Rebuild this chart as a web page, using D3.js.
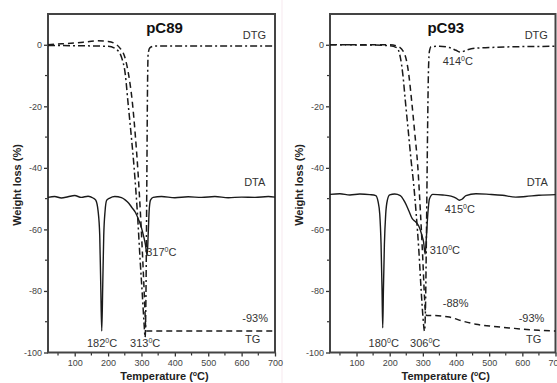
<!DOCTYPE html>
<html lang="en">
<head>
<meta charset="UTF-8">
<title>TG / DTG / DTA of pC89 and pC93</title>
<script src="https://d3js.org/d3.v7.min.js"></script>
<style>
  body { margin: 0; background: #fff; }
  svg { display: block; font-family: "Liberation Sans", Arial, sans-serif; }
  .tick text { fill: #444; font-size: 9px; }
  .ann { fill: #333; font-size: 11px; }
</style>
</head>
<body>
<svg width="557" height="383"></svg>
<script>
// --- data (temperature °C, weight loss %) ---
var xTicks = [100, 200, 300, 400, 500, 600, 700];
var xMinor = [50, 150, 250, 350, 450, 550, 650];
var yTicks = [0, -20, -40, -60, -80, -100];
var yMinor = [-10, -30, -50, -70, -90];

var tgC89 = [[20,0],[60,0.3],[100,0.6],[140,1],[170,1.3],[200,1.1],[220,0.4],[235,-1],[250,-4],
  [262,-10],[272,-18],[282,-30],[290,-42],[297,-55],[303,-68],[308,-80],[311,-88],[313,-93],
  [330,-93],[500,-93],[700,-93]];
var dtgC89 = [[20,-0.2],[100,-0.3],[200,-0.5],[225,-1.5],[240,-4],[252,-10],[259,-18],[268,-28],
  [278,-40],[288,-55],[296,-70],[303,-82],[308,-91],[311,-95],[314,-75],[316,-45],[318,-15],
  [320,-3],[325,-1],[340,-0.4],[500,-0.4],[700,-0.4]];
var dtaC89 = [[20,-49.6],[40,-49.3],[60,-49.8],[80,-49.4],[100,-49.0],[120,-49.6],[140,-49.2],
  [155,-49.8],[163,-50.5],[170,-54],[175,-62],[178,-78],[181,-93],[184,-78],[187,-62],[191,-54],
  [196,-50.5],[205,-49.8],[220,-49.3],[240,-49.7],[252,-50.5],[262,-51.5],[272,-53],[282,-54.5],
  [292,-57],[300,-59.5],[307,-62.5],[312,-65],[317,-68.5],[320,-62],[323,-54],[327,-50.5],
  [335,-49.6],[360,-49.3],[400,-49.7],[440,-49.4],[480,-49.6],[520,-49.3],[560,-49.7],
  [600,-49.5],[640,-49.6],[680,-49.3],[700,-49.5]];

var tgC93 = [[20,0],[150,0],[200,0],[225,-0.5],[245,-3],[258,-10],[266,-18],[275,-28],[285,-40],
  [293,-55],[300,-70],[305,-82],[308,-87],[312,-88],[330,-88],[380,-88.5],[420,-89.8],
  [460,-90.8],[510,-91.5],[560,-92],[600,-92.4],[650,-92.8],[700,-93]];
var dtgC93 = [[20,0],[150,-0.1],[200,-0.3],[222,-1],[232,-4],[240,-10],[247,-18],[256,-28],
  [265,-38],[272,-45],[280,-55],[288,-67],[295,-80],[300,-88],[305,-93],[308,-85],[311,-60],
  [314,-30],[317,-8],[320,-2],[325,-0.6],[350,-0.5],[380,-0.9],[400,-1.8],[414,-2.4],[430,-1.8],
  [460,-1.1],[500,-0.9],[550,-0.7],[600,-0.6],[700,-0.5]];
var dtaC93 = [[20,-48.6],[50,-48.4],[80,-48.8],[110,-48.5],[140,-48.7],[158,-49],[165,-51],
  [170,-55],[174,-65],[177,-80],[179,-92],[181,-80],[184,-65],[188,-55],[193,-50.5],[200,-48.8],
  [215,-48.5],[232,-49],[245,-51],[258,-54],[268,-56.5],[278,-57.5],[288,-59],[296,-61.5],
  [302,-64],[307,-68],[311,-62],[315,-55],[320,-50],[330,-48.6],[360,-48.8],[385,-49.2],
  [400,-49.8],[410,-50.5],[418,-50.2],[430,-49],[460,-48.4],[500,-48.6],[540,-48.9],
  [580,-49.5],[610,-49.3],[650,-48.9],[700,-48.7]];

// annotations: [text, temperature, value, anchor]; "|" marks the degree sign
var annC89 = [["DTG",673,2,"end"],["DTA",671,-46,"end"],["TG",610,-97,"start"],["-93%",679,-90,"end"],
  ["182|C",182,-98.2,"middle"],["313|C",311,-98.2,"middle"],["317|C",314,-68.6,"start"]];
var annC93 = [["DTG",677,2,"end"],["DTA",677,-46,"end"],["TG",611,-97,"start"],["-93%",589,-90,"start"],
  ["-88%",360,-85.2,"start"],["414|C",360,-6.5,"start"],["415|C",366,-54.6,"start"],
  ["310|C",321,-68,"start"],["180|C",182,-98.2,"middle"],["306|C",307,-98.2,"middle"]];

var svg = d3.select("svg");

// faint separator between the two pictures
svg.append("line").attr("x1", 282).attr("x2", 282).attr("y1", 0).attr("y2", 383)
   .attr("stroke", "#f7e9ef").attr("stroke-width", 1);

function drawPanel(cfg) {
  var x = d3.scaleLinear().domain([20, 700]).range([cfg.x0, cfg.x1]);
  var y = d3.scaleLinear().domain([-100, 10]).range([352.5, 14]);
  var g = svg.append("g");

  // minor ticks
  g.selectAll(".mx").data(xMinor).enter().append("line")
    .attr("x1", function(d) { return x(d); }).attr("x2", function(d) { return x(d); })
    .attr("y1", 352.5).attr("y2", 355.5).attr("stroke", "#333").attr("stroke-width", 1.2);
  g.selectAll(".my").data(yMinor).enter().append("line")
    .attr("x1", cfg.x0 - 3).attr("x2", cfg.x0)
    .attr("y1", function(d) { return y(d); }).attr("y2", function(d) { return y(d); })
    .attr("stroke", "#333").attr("stroke-width", 1.2);

  // axes
  var xa = g.append("g").attr("transform", "translate(0,352.5)")
    .call(d3.axisBottom(x).tickValues(xTicks).tickSize(4).tickSizeOuter(0).tickPadding(3)
      .tickFormat(function(d) { return String(d); }));
  var ya = g.append("g").attr("transform", "translate(" + cfg.x0 + ",0)")
    .call(d3.axisLeft(y).tickValues(yTicks).tickSize(4).tickSizeOuter(0).tickPadding(2)
      .tickFormat(function(d) { return String(d); }));
  [xa, ya].forEach(function(a) {
    a.select(".domain").remove();
    a.selectAll(".tick line").attr("stroke", "#333").attr("stroke-width", 1.3);
  });

  // frame
  g.append("rect").attr("x", cfg.x0).attr("y", 14)
    .attr("width", cfg.x1 - cfg.x0).attr("height", 352.5 - 14)
    .attr("fill", "none").attr("stroke", "#444").attr("stroke-width", 2);

  // curves
  var line = d3.line()
    .x(function(d) { return x(d[0]); })
    .y(function(d) { return y(d[1]); })
    .curve(d3.curveMonotoneX);
  g.append("path").datum(cfg.dta).attr("d", line)
    .attr("fill", "none").attr("stroke", "#1a1a1a").attr("stroke-width", 1.4);
  g.append("path").datum(cfg.tg).attr("d", line)
    .attr("fill", "none").attr("stroke", "#1a1a1a").attr("stroke-width", 1.5)
    .attr("stroke-dasharray", "6,4");
  g.append("path").datum(cfg.dtg).attr("d", line)
    .attr("fill", "none").attr("stroke", "#1a1a1a").attr("stroke-width", 1.5)
    .attr("stroke-dasharray", "7,3,2,3");

  // title
  g.append("text").attr("x", (cfg.x0 + cfg.x1) / 2 + 3).attr("y", 33)
    .attr("text-anchor", "middle").attr("font-size", "15px").attr("font-weight", "bold")
    .attr("fill", "#111").text(cfg.title);

  // annotations
  cfg.ann.forEach(function(a) {
    var t = g.append("text").attr("class", "ann")
      .attr("x", x(a[1])).attr("y", y(a[2])).attr("text-anchor", a[3]);
    var parts = a[0].split("|");
    t.append("tspan").text(parts[0]);
    if (parts.length > 1) {
      t.append("tspan").attr("dy", -4).attr("font-size", "7px").text("0");
      t.append("tspan").attr("dy", 4).text(parts[1]);
    }
  });

  // axis titles
  g.append("text").attr("x", (cfg.x0 + cfg.x1) / 2 + 3).attr("y", 380)
    .attr("text-anchor", "middle").attr("font-size", "11px").attr("font-weight", "bold")
    .attr("fill", "#222")
    .call(function(t) {
      t.append("tspan").text("Temperature (");
      t.append("tspan").attr("dy", -4).attr("font-size", "7px").text("o");
      t.append("tspan").attr("dy", 4).text("C)");
    });
  g.append("text").attr("transform", "translate(" + (cfg.x0 - 27) + ",185) rotate(-90)")
    .attr("text-anchor", "middle").attr("font-size", "11px").attr("font-weight", "bold")
    .attr("fill", "#222").text("Weight loss (%)");
}

drawPanel({ title: "pC89", x0: 48, x1: 275, tg: tgC89, dtg: dtgC89, dta: dtaC89, ann: annC89 });
drawPanel({ title: "pC93", x0: 330, x1: 555.5, tg: tgC93, dtg: dtgC93, dta: dtaC93, ann: annC93 });
</script>
</body>
</html>
